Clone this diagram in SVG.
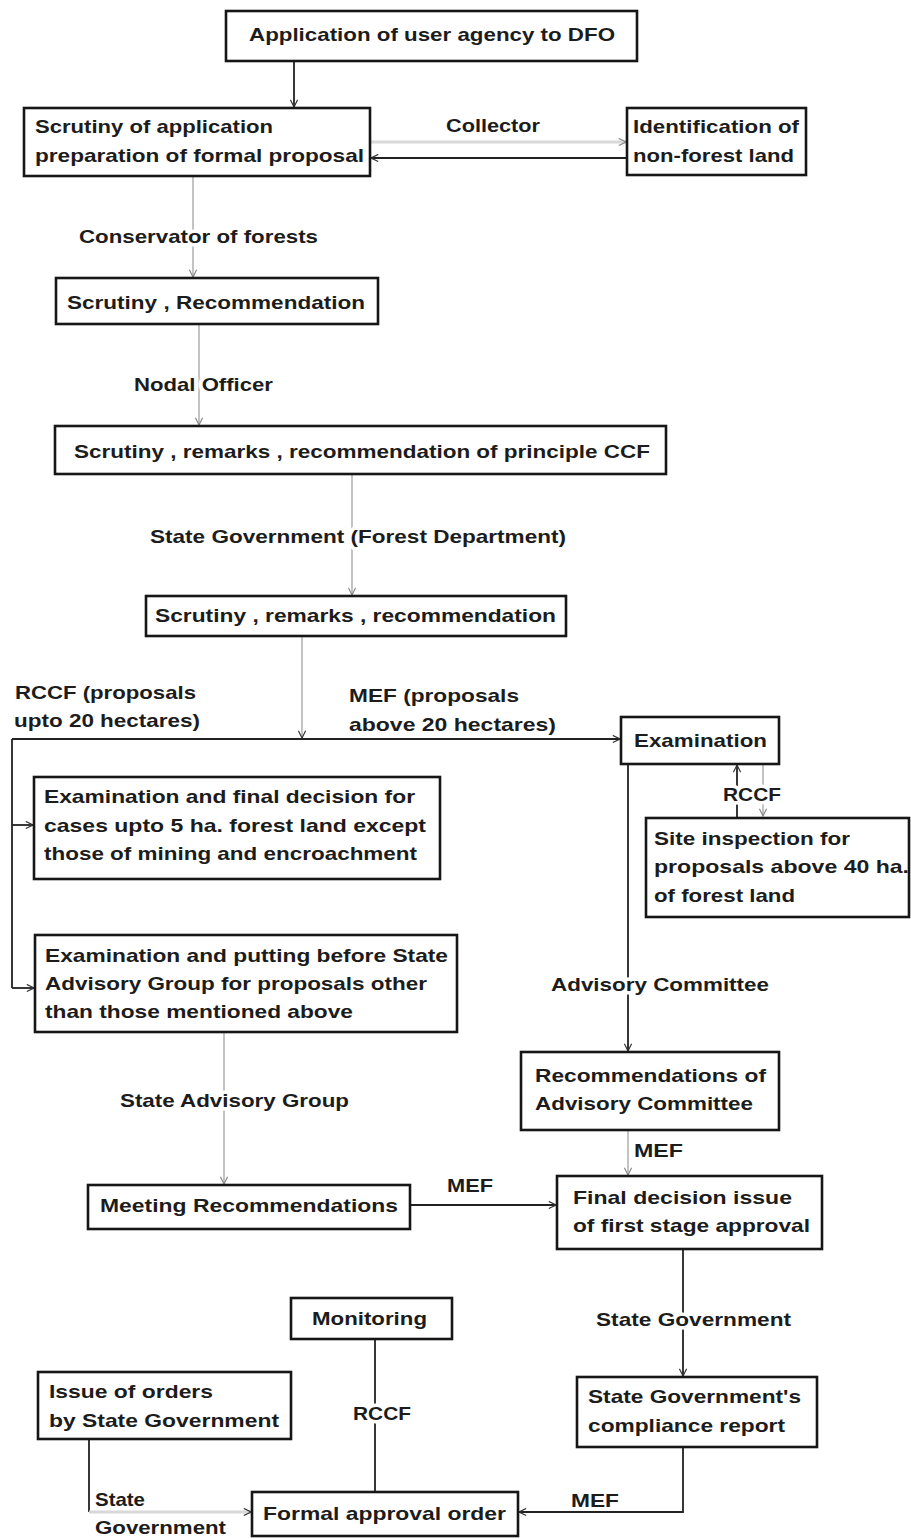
<svg xmlns="http://www.w3.org/2000/svg" width="911" height="1539" viewBox="0 0 911 1539">
  <style>
    .box { fill: #fff; stroke: #161616; stroke-width: 2.6; }
    .t { font-family: "Liberation Sans", Arial, sans-serif; font-weight: bold; font-size: 19px; fill: #1c1c1c; }
    .lbl { stroke: #fff; stroke-width: 7; stroke-linejoin: round; paint-order: stroke; }
    .dk { fill: none; stroke: #222; stroke-width: 1.8; }
    .gr { fill: none; stroke: #b4b4b4; stroke-width: 1.6; }
    .gw { fill: none; stroke: #d8d8d8; stroke-width: 3; }
  </style>
  <defs>
    <marker id="ah-dk" viewBox="0 0 10 10" refX="9" refY="5" markerWidth="9" markerHeight="9" markerUnits="userSpaceOnUse" orient="auto">
      <path d="M1,1 L9,5 L1,9" fill="none" stroke="#333" stroke-width="1.3"/>
    </marker>
    <marker id="ah-gr" viewBox="0 0 10 10" refX="9" refY="5" markerWidth="9" markerHeight="9" markerUnits="userSpaceOnUse" orient="auto">
      <path d="M1,1 L9,5 L1,9" fill="none" stroke="#888" stroke-width="1.3"/>
    </marker>
  </defs>

  <!-- connectors -->
  <g id="connectors">
    <path class="dk" d="M294,61 V107" marker-end="url(#ah-dk)"/>
    <path class="gw" d="M370,142 H626" marker-end="url(#ah-gr)"/>
    <path class="dk" d="M627,158 H371" marker-end="url(#ah-dk)"/>
    <path class="gr" d="M193,176 V277" marker-end="url(#ah-gr)"/>
    <path class="gr" d="M199,324 V425" marker-end="url(#ah-gr)"/>
    <path class="gr" d="M352,474 V595" marker-end="url(#ah-gr)"/>
    <path class="gr" d="M302,636 V738" marker-end="url(#ah-dk)"/>
    <path class="dk" d="M12,739 H620" marker-end="url(#ah-dk)"/>
    <path class="dk" d="M12,739 V988"/>
    <path class="dk" d="M12,825 H33" marker-end="url(#ah-dk)"/>
    <path class="dk" d="M12,988 H34" marker-end="url(#ah-dk)"/>
    <path class="dk" d="M737,817 V765" marker-end="url(#ah-dk)"/>
    <path class="gr" d="M763,764 V816" marker-end="url(#ah-gr)"/>
    <path class="dk" d="M628,764 V1051" marker-end="url(#ah-dk)"/>
    <path class="gr" d="M628,1130 V1175" marker-end="url(#ah-gr)"/>
    <path class="gr" d="M224,1032 V1184" marker-end="url(#ah-gr)"/>
    <path class="dk" d="M411,1205 H556" marker-end="url(#ah-dk)"/>
    <path class="dk" d="M683,1249 V1376" marker-end="url(#ah-dk)"/>
    <path class="dk" d="M683,1447 V1512 H519" marker-end="url(#ah-dk)"/>
    <path class="dk" d="M375,1339 V1492"/>
    <path class="dk" d="M89,1439 V1512"/>
    <path class="gw" d="M89,1512 H251" marker-end="url(#ah-dk)"/>
  </g>

  <!-- connector labels -->
  <g id="labels" class="t">
    <text x="446" y="132" textLength="94" lengthAdjust="spacingAndGlyphs">Collector</text>
    <text class="lbl" x="79" y="243" textLength="239" lengthAdjust="spacingAndGlyphs">Conservator of forests</text>
    <text class="lbl" x="134" y="391" textLength="139" lengthAdjust="spacingAndGlyphs">Nodal Officer</text>
    <text class="lbl" x="150" y="543" textLength="416" lengthAdjust="spacingAndGlyphs">State Government (Forest Department)</text>
    <text x="15" y="699" textLength="181" lengthAdjust="spacingAndGlyphs">RCCF (proposals</text>
    <text x="14" y="727" textLength="186" lengthAdjust="spacingAndGlyphs">upto 20 hectares)</text>
    <text x="349" y="702" textLength="170" lengthAdjust="spacingAndGlyphs">MEF (proposals</text>
    <text x="349" y="731" textLength="207" lengthAdjust="spacingAndGlyphs">above 20 hectares)</text>
    <text class="lbl" x="723" y="801" textLength="58" lengthAdjust="spacingAndGlyphs">RCCF</text>
    <text class="lbl" x="551" y="991" textLength="218" lengthAdjust="spacingAndGlyphs">Advisory Committee</text>
    <text class="lbl" x="120" y="1107" textLength="229" lengthAdjust="spacingAndGlyphs">State Advisory Group</text>
    <text x="634" y="1157" textLength="49" lengthAdjust="spacingAndGlyphs">MEF</text>
    <text x="447" y="1192" textLength="46" lengthAdjust="spacingAndGlyphs">MEF</text>
    <text class="lbl" x="596" y="1326" textLength="195" lengthAdjust="spacingAndGlyphs">State Government</text>
    <text class="lbl" x="353" y="1420" textLength="58" lengthAdjust="spacingAndGlyphs">RCCF</text>
    <text x="571" y="1507" textLength="48" lengthAdjust="spacingAndGlyphs">MEF</text>
    <text x="95" y="1506" textLength="50" lengthAdjust="spacingAndGlyphs">State</text>
    <text x="95" y="1534" textLength="131" lengthAdjust="spacingAndGlyphs">Government</text>
  </g>

  <!-- nodes -->
  <g id="n-application">
    <rect class="box" x="226" y="11" width="411" height="50"/>
    <text class="t" x="249" y="41" textLength="366" lengthAdjust="spacingAndGlyphs">Application of user agency to DFO</text>
  </g>
  <g id="n-scrutiny-application">
    <rect class="box" x="24" y="108" width="346" height="68"/>
    <text class="t" x="35" y="133" textLength="238" lengthAdjust="spacingAndGlyphs">Scrutiny of application</text>
    <text class="t" x="35" y="162" textLength="329" lengthAdjust="spacingAndGlyphs">preparation of formal proposal</text>
  </g>
  <g id="n-identification">
    <rect class="box" x="627" y="108" width="179" height="67"/>
    <text class="t" x="633" y="133" textLength="166" lengthAdjust="spacingAndGlyphs">Identification of</text>
    <text class="t" x="633" y="162" textLength="161" lengthAdjust="spacingAndGlyphs">non-forest land</text>
  </g>
  <g id="n-scrutiny-recommendation">
    <rect class="box" x="56" y="278" width="322" height="46"/>
    <text class="t" x="67" y="309" textLength="298" lengthAdjust="spacingAndGlyphs">Scrutiny , Recommendation</text>
  </g>
  <g id="n-principle-ccf">
    <rect class="box" x="55" y="426" width="611" height="48"/>
    <text class="t" x="74" y="458" textLength="576" lengthAdjust="spacingAndGlyphs">Scrutiny , remarks , recommendation of principle CCF</text>
  </g>
  <g id="n-state-scrutiny">
    <rect class="box" x="146" y="596" width="420" height="40"/>
    <text class="t" x="155" y="622" textLength="401" lengthAdjust="spacingAndGlyphs">Scrutiny , remarks , recommendation</text>
  </g>
  <g id="n-examination">
    <rect class="box" x="621" y="717" width="158" height="47"/>
    <text class="t" x="634" y="747" textLength="133" lengthAdjust="spacingAndGlyphs">Examination</text>
  </g>
  <g id="n-final-5ha">
    <rect class="box" x="34" y="777" width="406" height="102"/>
    <text class="t" x="44" y="803" textLength="371" lengthAdjust="spacingAndGlyphs">Examination and final decision for</text>
    <text class="t" x="44" y="832" textLength="382" lengthAdjust="spacingAndGlyphs">cases upto 5 ha. forest land except</text>
    <text class="t" x="44" y="860" textLength="373" lengthAdjust="spacingAndGlyphs">those of mining and encroachment</text>
  </g>
  <g id="n-site-inspection">
    <rect class="box" x="646" y="818" width="263" height="99"/>
    <text class="t" x="654" y="845" textLength="196" lengthAdjust="spacingAndGlyphs">Site inspection for</text>
    <text class="t" x="654" y="873" textLength="255" lengthAdjust="spacingAndGlyphs">proposals above 40 ha.</text>
    <text class="t" x="654" y="902" textLength="141" lengthAdjust="spacingAndGlyphs">of forest land</text>
  </g>
  <g id="n-state-advisory">
    <rect class="box" x="35" y="935" width="422" height="97"/>
    <text class="t" x="45" y="962" textLength="403" lengthAdjust="spacingAndGlyphs">Examination and putting before State</text>
    <text class="t" x="45" y="990" textLength="382" lengthAdjust="spacingAndGlyphs">Advisory Group for proposals other</text>
    <text class="t" x="45" y="1018" textLength="308" lengthAdjust="spacingAndGlyphs">than those mentioned above</text>
  </g>
  <g id="n-advisory-recommendations">
    <rect class="box" x="521" y="1052" width="258" height="78"/>
    <text class="t" x="535" y="1082" textLength="231" lengthAdjust="spacingAndGlyphs">Recommendations of</text>
    <text class="t" x="535" y="1110" textLength="218" lengthAdjust="spacingAndGlyphs">Advisory Committee</text>
  </g>
  <g id="n-meeting">
    <rect class="box" x="88" y="1185" width="322" height="44"/>
    <text class="t" x="100" y="1212" textLength="298" lengthAdjust="spacingAndGlyphs">Meeting Recommendations</text>
  </g>
  <g id="n-final-decision">
    <rect class="box" x="557" y="1176" width="265" height="73"/>
    <text class="t" x="573" y="1204" textLength="219" lengthAdjust="spacingAndGlyphs">Final decision issue</text>
    <text class="t" x="573" y="1232" textLength="237" lengthAdjust="spacingAndGlyphs">of first stage approval</text>
  </g>
  <g id="n-monitoring">
    <rect class="box" x="291" y="1298" width="161" height="41"/>
    <text class="t" x="312" y="1325" textLength="115" lengthAdjust="spacingAndGlyphs">Monitoring</text>
  </g>
  <g id="n-issue-orders">
    <rect class="box" x="38" y="1372" width="253" height="67"/>
    <text class="t" x="49" y="1398" textLength="164" lengthAdjust="spacingAndGlyphs">Issue of orders</text>
    <text class="t" x="49" y="1427" textLength="230" lengthAdjust="spacingAndGlyphs">by State Government</text>
  </g>
  <g id="n-compliance">
    <rect class="box" x="577" y="1377" width="240" height="70"/>
    <text class="t" x="588" y="1403" textLength="213" lengthAdjust="spacingAndGlyphs">State Government's</text>
    <text class="t" x="588" y="1432" textLength="197" lengthAdjust="spacingAndGlyphs">compliance report</text>
  </g>
  <g id="n-formal-approval">
    <rect class="box" x="252" y="1492" width="266" height="44"/>
    <text class="t" x="263" y="1520" textLength="243" lengthAdjust="spacingAndGlyphs">Formal approval order</text>
  </g>
</svg>
